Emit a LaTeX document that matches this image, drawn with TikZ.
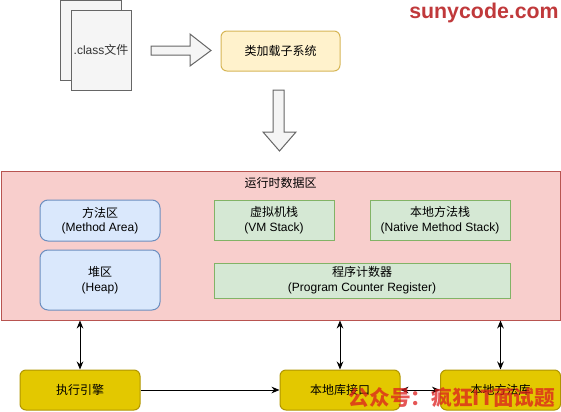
\documentclass[tikz,border=0pt]{standalone}
\usepackage{fontspec}
\setmainfont{Liberation Sans}
\newfontfamily\cjk{Noto Sans CJK SC}
\usetikzlibrary{positioning, arrows.meta}

\definecolor{pagefill}{HTML}{F5F5F5}
\definecolor{pageline}{HTML}{666666}
\definecolor{loadfill}{HTML}{FFF2CC}
\definecolor{loadline}{HTML}{D6B656}
\definecolor{areafill}{HTML}{F8CECC}
\definecolor{arealine}{HTML}{B85450}
\definecolor{bluefill}{HTML}{DAE8FC}
\definecolor{blueline}{HTML}{6C8EBF}
\definecolor{greenfill}{HTML}{D5E8D4}
\definecolor{greenline}{HTML}{82B366}
\definecolor{goldfill}{HTML}{E3C800}
\definecolor{goldline}{HTML}{B09500}
\definecolor{markred}{HTML}{C0393B}
\definecolor{markorange}{HTML}{DC1E1E}

\tikzset{
  base/.style={draw, line width=0.75pt, align=center, inner sep=1pt,
    font=\fontsize{9pt}{11pt}\selectfont},
  pagebox/.style={base, fill=pagefill, draw=pageline, text=black!80,
    minimum width=45pt, minimum height=60pt},
  loadbox/.style={base, fill=loadfill, draw=loadline, rounded corners=4.5pt,
    minimum width=89.25pt, minimum height=30pt},
  bluebox/.style={base, fill=bluefill, draw=blueline, rounded corners=6pt,
    minimum width=90pt},
  greenbox/.style={base, fill=greenfill, draw=greenline, minimum height=30pt},
  goldbox/.style={base, fill=goldfill, draw=goldline, rounded corners=4.5pt,
    minimum width=90pt, minimum height=30pt},
  link/.style={line width=0.75pt, black,
    arrows={Stealth[length=6pt,width=5pt]-Stealth[length=6pt,width=5pt]}},
  onelink/.style={line width=0.75pt, black,
    arrows={-Stealth[length=6pt,width=5pt]}},
  fatarrow/.style={fill=pagefill, draw=pageline, line width=0.75pt, line join=miter}
}

\begin{document}
\begin{tikzpicture}[x=0.75pt, y=-0.75pt]
\useasboundingbox (0,0) rectangle (561,411);

% Class files and the loader
\draw[fill=pagefill, draw=pageline, line width=0.75pt] (60,0) rectangle (121,80);
\node[pagebox] (classfile) at (101,50) {.class{\cjk 文件}};
\node[loadbox] (loader) at (280.5,51) {\cjk 类加载子系统};

% Hollow block arrows
\draw[fatarrow] (151,46) -- (190,46) -- (190,34) -- (211,50.5) -- (190,66)
    -- (190,55) -- (151,55) -- cycle;
\draw[fatarrow] (273,90) -- (284,90) -- (284,132) -- (296,132) -- (279.5,151)
    -- (263,132) -- (273,132) -- cycle;

% Runtime data area
\node[base, fill=areafill, draw=arealine, minimum width=419.25pt,
    minimum height=111.75pt] (runtime) at (280.5,245.5) {};
\node[base, draw=none] (runtitle) at (280.5,183) {\cjk 运行时数据区};

\node[bluebox, minimum height=30.75pt] (method) at (100,220.5)
    {{\cjk 方法区}\\(Method Area)};
\node[bluebox, minimum height=45pt] (heap) at (100,280)
    {{\cjk 堆区}\\(Heap)};
\node[greenbox, minimum width=90pt] (vmstack) at (274,220)
    {{\cjk 虚拟机栈}\\(VM Stack)};
\node[greenbox, minimum width=105pt] (nativestack) at (440,220)
    {{\cjk 本地方法栈}\\(Native Method Stack)};
\node[greenbox, minimum width=222pt, minimum height=26.25pt] (pcreg) at (362,280.5)
    {{\cjk 程序计数器}\\(Program Counter Register)};

% Engine and native libraries
\node[goldbox] (engine) at (80,390) {\cjk 执行引擎};
\node[goldbox] (nativeif) at (340,390) {\cjk 本地库接口};
\node[goldbox] (nativelib) at (500.5,390) {\cjk 本地方法库};

\draw[link] (runtime.south -| engine) -- (engine.north);
\draw[link] (runtime.south -| nativeif) -- (nativeif.north);
\draw[link] (runtime.south -| nativelib) -- (nativelib.north);
\draw[onelink] (engine.east) -- (nativeif.west);
\draw[link] (nativeif.east) -- (nativelib.west);

% Watermarks
\node[text=markred, font=\bfseries\fontsize{16pt}{18pt}\selectfont, inner sep=0pt]
    (sitemark) at (484,13) {sunycode.com};
\node[text=markorange, opacity=0.75, inner sep=0pt] (wechatmark) at (452,398)
    {\cjk\bfseries\fontsize{15.5pt}{18pt}\selectfont 公众号：疯狂IT面试题};
\end{tikzpicture}
\end{document}
